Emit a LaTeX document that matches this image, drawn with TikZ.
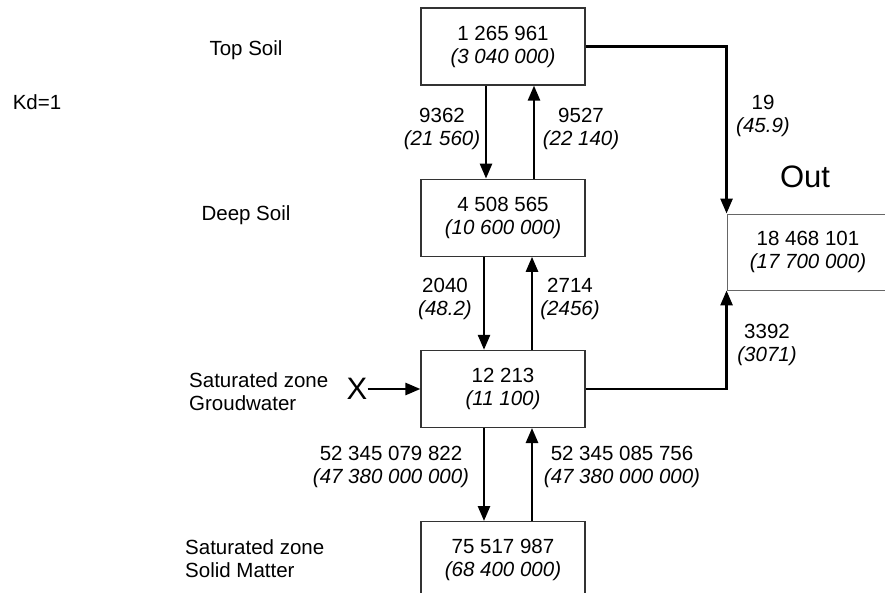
\documentclass[tikz,border=0pt]{standalone}
\usepackage{fontspec}
\setmainfont{Liberation Sans}
\usetikzlibrary{arrows.meta,positioning}
\newcommand{\flowfont}{\fontsize{20.5}{23}\selectfont}
\tikzset{
  pool/.style    ={rectangle, draw=black!80, line width=1.2pt, minimum width=164pt,
                   minimum height=77pt, align=center, inner sep=0pt, font=\flowfont},
  outpool/.style ={pool, draw=black!60, line width=0.9pt, minimum width=162pt,
                   minimum height=76pt},
  flux/.style    ={-{Triangle[length=15pt,width=12pt]}, line width=2.6pt},
  fluxlbl/.style ={align=center, font=\flowfont, inner sep=0pt},
  zonelbl/.style ={align=left, font=\flowfont, inner sep=0pt, anchor=west},
  biglbl/.style  ={font=\fontsize{31}{34}\selectfont, inner sep=0pt}
}

\begin{document}
\begin{tikzpicture}[x=1pt, y=-1pt, node distance=93pt]
  \useasboundingbox (0,0) rectangle (885,593);
  \clip (0,0) rectangle (885,593);
  % compartments
  \node[pool]               (top)   at (503,46.5) {1 265 961\\\textit{(3 040 000)}};
  \node[pool, below=of top]  (deep)  {4 508 565\\\textit{(10 600 000)}};
  \node[pool, below=of deep] (gw)    {12 213\\\textit{(11 100)}};
  \node[pool, below=of gw]   (solid) {75 517 987\\\textit{(68 400 000)}};
  \node[outpool]            (out)   at (808,252) {18 468 101\\\textit{(17 700 000)}};
  % zone names
  \node[font=\flowfont, inner sep=0pt] (kd)    at (37,102)  {Kd=1};
  \node[font=\flowfont, inner sep=0pt] (tsoil) at (246,50)  {Top Soil};
  \node[font=\flowfont, inner sep=0pt] (dsoil) at (246,215) {Deep Soil};
  \node[zonelbl] (gwlbl)  at (189,391.5) {Saturated zone\\Groudwater};
  \node[zonelbl] (sollbl) at (185,558.5) {Saturated zone\\Solid Matter};
  \node[biglbl]  (outlbl) at (805,177) {Out};
  \node[biglbl]  (x)      at (357,389) {X};
  % fluxes
  \node[fluxlbl] (f1) at (442,128.5) {9362\\\textit{(21 560)}};
  \node[fluxlbl] (f2) at (581,128.5) {9527\\\textit{(22 140)}};
  \node[fluxlbl] (f3) at (445,298.5) {2040\\\textit{(48.2)}};
  \node[fluxlbl] (f4) at (570,298.5) {2714\\\textit{(2456)}};
  \node[fluxlbl] (f5) at (391,466.5) {52 345 079 822\\\textit{(47 380 000 000)}};
  \node[fluxlbl] (f6) at (622,466.5) {52 345 085 756\\\textit{(47 380 000 000)}};
  \node[fluxlbl] (f7) at (763,115.5) {19\\\textit{(45.9)}};
  \node[fluxlbl] (f8) at (767,344.5) {3392\\\textit{(3071)}};
  \draw[flux] ([xshift=-17pt]top.south)  -- ([xshift=-17pt]deep.north);
  \draw[flux] ([xshift=31pt]deep.north)  -- ([xshift=31pt]top.south);
  \draw[flux] ([xshift=-19pt]deep.south) -- ([xshift=-19pt]gw.north);
  \draw[flux] ([xshift=29pt]gw.north)    -- ([xshift=29pt]deep.south);
  \draw[flux] ([xshift=-19pt]gw.south)   -- ([xshift=-19pt]solid.north);
  \draw[flux] ([xshift=29pt]solid.north) -- ([xshift=29pt]gw.south);
  \draw[flux] (top.east) -| (out.north west);
  \draw[flux] (gw.east)  -| (out.south west);
  \draw[flux] (x.east) -- (x.east -| gw.west);
\end{tikzpicture}
\end{document}
